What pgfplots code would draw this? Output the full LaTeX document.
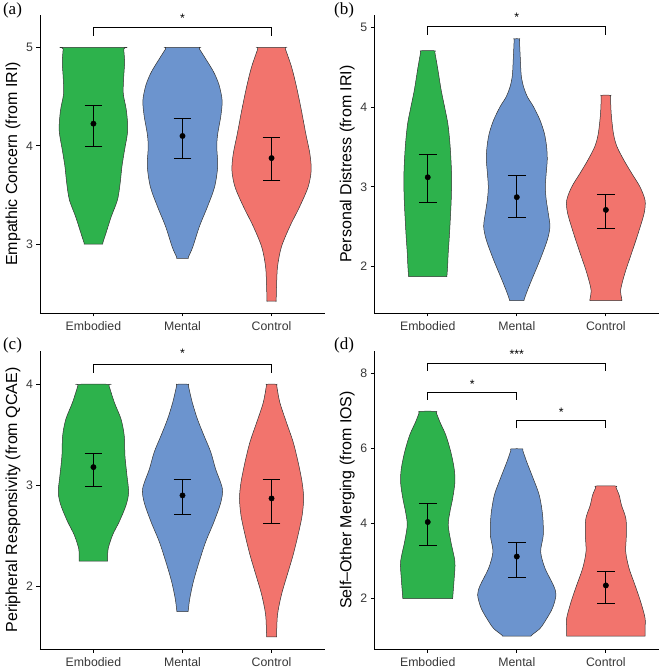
\documentclass[border=0pt]{standalone}
\usepackage{fontspec}
\setmainfont{Liberation Sans}
\newfontfamily\tnr{Liberation Serif}
\usepackage{pgfplots}
\pgfplotsset{compat=1.18}
\usepackage{pgfplotstable}

\definecolor{cEmb}{RGB}{45,178,76}
\definecolor{cMen}{RGB}{108,148,206}
\definecolor{cCon}{RGB}{242,116,109}
\definecolor{outl}{RGB}{50,50,50}
\definecolor{tickc}{RGB}{55,55,55}

% violin outlines: y value, half width (x units)
\pgfplotstableread{
y w
3.00 0.104
3.015 0.106
3.11 0.14
3.28 0.20
3.45 0.27
3.62 0.30
3.79 0.32
3.96 0.35
4.16 0.385
4.36 0.37
4.53 0.335
4.70 0.34
4.85 0.35
4.985 0.34
5.00 0.34
}\vaE
\pgfplotstableread{
y w
2.855 0.065
2.87 0.067
2.97 0.115
3.18 0.19
3.38 0.28
3.58 0.36
3.79 0.395
3.99 0.385
4.12 0.395
4.30 0.43
4.46 0.445
4.62 0.41
4.75 0.35
4.87 0.27
4.985 0.19
5.00 0.18
}\vaM
\pgfplotstableread{
y w
2.42 0.052
2.435 0.052
2.57 0.056
2.77 0.067
2.97 0.11
3.18 0.205
3.38 0.315
3.58 0.41
3.75 0.445
3.92 0.43
4.12 0.385
4.36 0.335
4.60 0.28
4.80 0.225
4.985 0.155
5.00 0.15
}\vaC
\pgfplotstableread{
y w
1.87 0.215
1.89 0.216
2.00 0.223
2.17 0.23
2.42 0.245
2.84 0.264
3.13 0.268
3.40 0.258
3.60 0.245
3.80 0.225
4.00 0.19
4.22 0.15
4.50 0.11
4.69 0.08
4.71 0.078
}\vbE
\pgfplotstableread{
y w
1.57 0.08
1.59 0.085
1.67 0.11
1.83 0.167
2.08 0.26
2.33 0.342
2.50 0.372
2.67 0.353
2.84 0.33
3.00 0.32
3.17 0.33
3.34 0.342
3.50 0.335
3.67 0.31
3.84 0.26
4.01 0.186
4.13 0.12
4.26 0.075
4.40 0.05
4.60 0.04
4.84 0.03
4.86 0.03
}\vbM
\pgfplotstableread{
y w
1.57 0.18
1.59 0.178
1.71 0.167
1.92 0.215
2.17 0.29
2.42 0.364
2.67 0.43
2.83 0.44
3.00 0.383
3.17 0.29
3.34 0.20
3.51 0.123
3.67 0.085
3.92 0.06
4.13 0.052
4.15 0.052
}\vbC
\pgfplotstableread{
y w
2.25 0.16
2.265 0.16
2.37 0.165
2.51 0.216
2.64 0.29
2.80 0.365
2.93 0.395
3.10 0.376
3.29 0.354
3.49 0.346
3.655 0.31
3.82 0.235
3.985 0.175
4.00 0.17
}\vcE
\pgfplotstableread{
y w
1.75 0.063
1.765 0.065
1.88 0.082
2.05 0.123
2.24 0.186
2.44 0.26
2.64 0.354
2.83 0.43
2.97 0.447
3.16 0.372
3.33 0.317
3.49 0.242
3.655 0.168
3.82 0.11
3.985 0.066
4.00 0.063
}\vcM
\pgfplotstableread{
y w
1.50 0.056
1.515 0.056
1.72 0.067
1.92 0.112
2.11 0.175
2.31 0.242
2.51 0.298
2.70 0.343
2.87 0.36
3.03 0.343
3.23 0.298
3.43 0.242
3.62 0.168
3.82 0.093
3.985 0.058
4.00 0.056
}\vcC
\pgfplotstableread{
y w
2.00 0.28
2.04 0.281
2.54 0.297
2.98 0.305
3.51 0.26
3.96 0.23
4.31 0.249
4.66 0.279
5.10 0.305
5.46 0.297
5.90 0.26
6.35 0.204
6.70 0.138
6.95 0.097
6.99 0.093
}\vdE
\pgfplotstableread{
y w
1.00 0.16
1.04 0.175
1.20 0.26
1.39 0.316
1.74 0.40
2.10 0.44
2.36 0.41
2.81 0.316
3.25 0.268
3.69 0.297
4.22 0.29
4.75 0.253
5.19 0.186
5.64 0.112
5.95 0.067
5.99 0.063
}\vdM
\pgfplotstableread{
y w
1.00 0.44
1.04 0.44
1.21 0.44
1.48 0.44
1.92 0.39
2.36 0.327
2.81 0.26
3.25 0.223
3.69 0.23
4.13 0.225
4.49 0.175
4.75 0.15
4.96 0.114
5.00 0.11
}\vdC

% outline order: right side upward, then left side downward
\newcommand{\closeviolin}[1]{%
  \pgfplotstablesort[sort key=y, sort cmp=float >]{\vtmp}{#1}%
  \pgfplotstablecreatecol[create col/expr={\thisrow{w}}]{d}{#1}%
  \pgfplotstablecreatecol[create col/expr={-\thisrow{w}}]{d}{\vtmp}%
  \pgfplotstablevertcat{#1}{\vtmp}}
\closeviolin{\vaE}\closeviolin{\vaM}\closeviolin{\vaC}
\closeviolin{\vbE}\closeviolin{\vbM}\closeviolin{\vbC}
\closeviolin{\vcE}\closeviolin{\vcM}\closeviolin{\vcC}
\closeviolin{\vdE}\closeviolin{\vdM}\closeviolin{\vdC}

\pgfplotsset{
  panel/.style={
    scale only axis, width=285bp, height=298bp, anchor=south west,
    xmin=0.4, xmax=3.6, xtick={1,2,3}, xticklabels={Embodied,Mental,Control},
    axis x line*=bottom, axis y line*=left,
    axis line style={-, line width=0.9bp, black},
    tick align=outside, major tick length=3.5bp,
    tick style={line width=0.8bp, black},
    tick label style={font=\fontsize{12.3bp}{14bp}\selectfont, text=tickc},
    xticklabel style={yshift=-2bp},
    label style={font=\fontsize{16bp}{18bp}\selectfont},
    y label style={at={(axis description cs:-0.095,0.5)}, anchor=center},
    /pgf/number format/assume math mode=true,
    clip=false,
  },
  vio/.style={fill=#1, draw=outl, line width=0.5bp, smooth, tension=0.5, mark=none, forget plot},
  eb/.style={only marks, mark=*, mark size=2.7bp, black,
    error bars/.cd, y dir=both, y explicit, error mark=-,
    error mark options={rotate=90, mark size=8.9bp, line width=0.8bp, black},
    error bar style={line width=0.8bp, black}},
  br/.style={black, line width=1.1bp, mark=none},
}
\tikzset{sigstar/.style={font=\fontsize{12.3bp}{14bp}\selectfont, anchor=base, yshift=-7bp}}

\newcommand{\violin}[3]{%
  \addplot[vio=#3] table[x expr=#1+\thisrow{d}, y=y]{#2} -- cycle;
}

\begin{document}
\begin{tikzpicture}

% (a)
\begin{axis}[panel, at={(40bp,356bp)}, ymin=2.30, ymax=5.33, ytick={3,4,5},
  ylabel={Empathic Concern (from IRI)}]
\violin{1}{\vaE}{cEmb}
\violin{2}{\vaM}{cMen}
\violin{3}{\vaC}{cCon}
\addplot[eb] coordinates {
 (1,4.225) += (0,0.185) -= (0,0.235)
 (2,4.10) += (0,0.18) -= (0,0.23)
 (3,3.875) += (0,0.215) -= (0,0.23)};
\addplot[br] coordinates {(1,5.12) (1,5.2) (3,5.2) (3,5.12)};
\node[sigstar] at (axis cs:2,5.325) {*};
\end{axis}

% (b)
\begin{axis}[panel, at={(374.3bp,356bp)}, ymin=1.414, ymax=5.16, ytick={2,3,4,5},
  ylabel={Personal Distress (from IRI)}]
\violin{1}{\vbE}{cEmb}
\violin{2}{\vbM}{cMen}
\violin{3}{\vbC}{cCon}
\addplot[eb] coordinates {
 (1,3.12) += (0,0.29) -= (0,0.32)
 (2,2.87) += (0,0.27) -= (0,0.25)
 (3,2.71) += (0,0.19) -= (0,0.23)};
\addplot[br] coordinates {(1,4.91) (1,5.01) (3,5.01) (3,4.91)};
\node[sigstar] at (axis cs:2,5.16) {*};
\end{axis}

% (c)
\begin{axis}[panel, at={(40bp,20bp)}, ymin=1.379, ymax=4.33, ytick={2,3,4},
  ylabel={Peripheral Responsivity (from QCAE)}]
\violin{1}{\vcE}{cEmb}
\violin{2}{\vcM}{cMen}
\violin{3}{\vcC}{cCon}
\addplot[eb] coordinates {
 (1,3.18) += (0,0.14) -= (0,0.19)
 (2,2.90) += (0,0.16) -= (0,0.19)
 (3,2.87) += (0,0.19) -= (0,0.25)};
\addplot[br] coordinates {(1,4.115) (1,4.197) (3,4.197) (3,4.115)};
\node[sigstar] at (axis cs:2,4.33) {*};
\end{axis}

% (d)
\begin{axis}[panel, at={(374.3bp,20bp)}, ymin=0.655, ymax=8.60, ytick={2,4,6,8},
  ylabel={Self\textendash Other Merging (from IOS)}]
\violin{1}{\vdE}{cEmb}
\violin{2}{\vdM}{cMen}
\violin{3}{\vdC}{cCon}
\addplot[eb] coordinates {
 (1,4.04) += (0,0.49) -= (0,0.62)
 (2,3.12) += (0,0.39) -= (0,0.55)
 (3,2.35) += (0,0.37) -= (0,0.48)};
\addplot[br] coordinates {(1,8.07) (1,8.27) (3,8.27) (3,8.07)};
\addplot[br] coordinates {(1,7.30) (1,7.50) (2,7.50) (2,7.30)};
\addplot[br] coordinates {(2,6.54) (2,6.74) (3,6.74) (3,6.54)};
\node[sigstar] at (axis cs:2,8.60) {***};
\node[sigstar] at (axis cs:1.5,7.80) {*};
\node[sigstar] at (axis cs:2.5,7.05) {*};
\end{axis}

\node[font=\tnr\fontsize{17bp}{19bp}\selectfont] at (12.5bp,658.5bp) {(a)};
\node[font=\tnr\fontsize{17bp}{19bp}\selectfont] at (344bp,658.5bp) {(b)};
\node[font=\tnr\fontsize{17bp}{19bp}\selectfont] at (12.5bp,323.5bp) {(c)};
\node[font=\tnr\fontsize{17bp}{19bp}\selectfont] at (344bp,323.5bp) {(d)};
\pgfresetboundingbox
\path[use as bounding box] (0,0) rectangle (663bp,669bp);
\end{tikzpicture}
\end{document}
